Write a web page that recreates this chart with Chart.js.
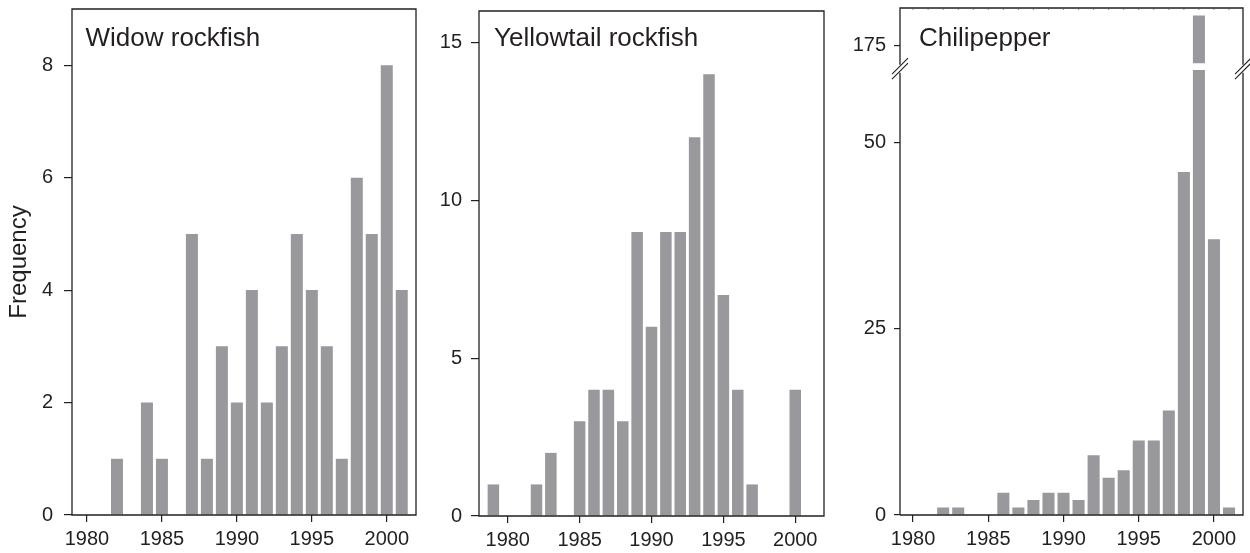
<!DOCTYPE html>
<html>
<head>
<meta charset="utf-8">
<script src="https://cdn.jsdelivr.net/npm/chart.js@4.4.1/dist/chart.umd.min.js"></script>
<style>
  html, body { margin: 0; padding: 0; background: #fff; }
  body { width: 1250px; height: 553px; position: relative; overflow: hidden; }
  canvas { position: absolute; top: 0; }
</style>
</head>
<body>
<canvas id="widow" width="425" height="553" style="left:0"></canvas>
<canvas id="yellowtail" width="410" height="553" style="left:425px"></canvas>
<canvas id="chili" width="415" height="553" style="left:835px"></canvas>
<script>
// Frequency by year, three species
const yearTicks = [1980, 1985, 1990, 1995, 2000];

const widowYears = [1980, 1981, 1982, 1983, 1984, 1985, 1986, 1987, 1988, 1989, 1990,
                    1991, 1992, 1993, 1994, 1995, 1996, 1997, 1998, 1999, 2000, 2001];
const widowCounts = [0, 0, 1, 0, 2, 1, 0, 5, 1, 3, 2, 4, 2, 3, 5, 4, 3, 1, 6, 5, 8, 4];
const widowYTicks = [0, 2, 4, 6, 8];

const yellowYears = [1979, 1980, 1981, 1982, 1983, 1984, 1985, 1986, 1987, 1988, 1989, 1990,
                     1991, 1992, 1993, 1994, 1995, 1996, 1997, 1998, 1999, 2000, 2001];
const yellowCounts = [1, 0, 0, 1, 2, 0, 3, 4, 4, 3, 9, 6, 9, 9, 12, 14, 7, 4, 1, 0, 0, 4, 0];
const yellowYTicks = [0, 5, 10, 15];

const chiliYears = [1980, 1981, 1982, 1983, 1984, 1985, 1986, 1987, 1988, 1989, 1990,
                    1991, 1992, 1993, 1994, 1995, 1996, 1997, 1998, 1999, 2000, 2001];
const chiliCounts = [0, 0, 1, 1, 0, 0, 3, 1, 2, 3, 3, 2, 8, 5, 6, 10, 10, 14, 46, 179, 37, 1];
const chiliLowTicks = [0, 25, 50];
const chiliHighTicks = [175];

// broken axis for chilipepper
const LOW_MAX = 60;
const HIGH_MIN = 172;
const HIGH_MAX = 180;

const FONT = "'Liberation Sans', Arial, Helvetica, sans-serif";
const INK = '#231f20';
const BAR = '#98989d';

const framePlugin = {
    id: 'frame',
    afterDraw(chart, args, opts) {
        const { ctx, chartArea: a } = chart;
        ctx.save();
        ctx.strokeStyle = INK;
        ctx.lineWidth = 1.3;
        ctx.beginPath();
        if (opts.broken) {
            const by = chart.scales.yLow.top + 1;
            const gap = 4;
            ctx.moveTo(a.left, a.bottom); ctx.lineTo(a.left, by + gap);
            ctx.moveTo(a.left, by - gap); ctx.lineTo(a.left, a.top);
            ctx.lineTo(a.right, a.top); ctx.lineTo(a.right, by - gap);
            ctx.moveTo(a.right, by + gap); ctx.lineTo(a.right, a.bottom);
            ctx.lineTo(a.left, a.bottom);
            ctx.stroke();
            // the // marks
            ctx.lineWidth = 1.1;
            ctx.beginPath();
            [a.left, a.right].forEach(x => {
                [-2.5, 2.5].forEach(off => {
                    ctx.moveTo(x - 8, by + 8 + off);
                    ctx.lineTo(x + 8, by - 8 + off);
                });
            });
            ctx.stroke();
            // faint year ticks along the top edge
            const xs = chart.scales.x;
            ctx.lineWidth = 0.7;
            ctx.strokeStyle = '#555';
            ctx.beginPath();
            chiliYears.forEach(y => {
                const px = xs.getPixelForValue(y);
                ctx.moveTo(px, a.top);
                ctx.lineTo(px, a.top + 2);
            });
            ctx.stroke();
        } else {
            ctx.rect(a.left, a.top, a.right - a.left, a.bottom - a.top);
            ctx.stroke();
        }
        ctx.fillStyle = INK;
        ctx.font = `26px ${FONT}`;
        ctx.textBaseline = 'alphabetic';
        ctx.textAlign = 'left';
        ctx.fillText(opts.title, a.left + opts.dx, a.top + opts.dy);
        ctx.restore();
    }
};

function xAxis(min, max, height) {
    return {
        type: 'linear',
        position: 'bottom',
        min: min,
        max: max,
        offset: false,
        afterBuildTicks: s => { s.ticks = yearTicks.map(v => ({ value: v })); },
        afterFit: s => {
            s.height = height;
            s.paddingLeft = 0;
            s.paddingRight = 0;
        },
        grid: { offset: false, drawOnChartArea: false, drawTicks: true, tickLength: 7, color: INK, lineWidth: 1.2 },
        border: { display: false },
        ticks: {
            color: INK,
            font: { family: FONT, size: 20 },
            padding: 5,
            maxRotation: 0,
            autoSkip: false,
            callback: v => String(v)
        }
    };
}

function yAxis(min, max, ticks, width, tickLen, pad, extra) {
    return Object.assign({
        type: 'linear',
        position: 'left',
        min: min,
        max: max,
        afterBuildTicks: s => { s.ticks = ticks.map(v => ({ value: v })); },
        afterFit: s => {
            s.width = width;
            s.paddingTop = 0;
            s.paddingBottom = 0;
        },
        grid: { drawOnChartArea: false, drawTicks: true, tickLength: tickLen, color: INK, lineWidth: 1.2 },
        border: { display: false },
        ticks: {
            color: INK,
            font: { family: FONT, size: 20 },
            padding: pad,
            autoSkip: false,
            callback: v => String(v)
        }
    }, extra || {});
}

function barSet(years, values, yAxisID) {
    return {
        data: years.map((y, i) => ({ x: y, y: values[i] })).filter(p => p.y !== null),
        backgroundColor: BAR,
        borderWidth: 0,
        barPercentage: 0.8,
        categoryPercentage: 1,
        grouped: false,
        yAxisID: yAxisID
    };
}

function baseOptions(padding, scales, frame) {
    return {
        responsive: false,
        animation: false,
        layout: { padding: padding },
        plugins: {
            legend: { display: false },
            tooltip: { enabled: false },
            frame: frame
        },
        scales: scales
    };
}

// Widow rockfish
new Chart(document.getElementById('widow'), {
    type: 'bar',
    data: { datasets: [barSet(widowYears, widowCounts, 'y')] },
    options: baseOptions(
        { left: 0, right: 9, top: 9, bottom: 0 },
        {
            x: xAxis(1979, 2001.95, 38),
            y: yAxis(0, 9, widowYTicks, 72, 8, 11, {
                title: {
                    display: true,
                    text: 'Frequency',
                    color: INK,
                    font: { family: FONT, size: 24 },
                    padding: { top: 5, bottom: 0 }
                }
            })
        },
        { title: 'Widow rockfish', dx: 13.5, dy: 36.5 }
    ),
    plugins: [framePlugin]
});

// Yellowtail rockfish
new Chart(document.getElementById('yellowtail'), {
    type: 'bar',
    data: { datasets: [barSet(yellowYears, yellowCounts, 'y')] },
    options: baseOptions(
        { left: 0, right: 11, top: 11, bottom: 0 },
        {
            x: xAxis(1978, 2002, 37),
            y: yAxis(0, 16, yellowYTicks, 54, 8, 9)
        },
        { title: 'Yellowtail rockfish', dx: 15, dy: 35 }
    ),
    plugins: [framePlugin]
});

// Chilipepper, with a broken y axis
const chiliLow = chiliCounts.map(v => Math.min(v, LOW_MAX - 0.3));
const chiliHigh = chiliCounts.map(v => (v > LOW_MAX ? [HIGH_MIN + 0.6, v] : null));

new Chart(document.getElementById('chili'), {
    type: 'bar',
    data: {
        datasets: [
            barSet(chiliYears, chiliLow, 'yLow'),
            barSet(chiliYears, chiliHigh, 'yHigh')
        ]
    },
    options: baseOptions(
        { left: 0, right: 7, top: 8, bottom: 0 },
        {
            x: xAxis(1979.13, 2001.93, 38),
            yLow: yAxis(0, LOW_MAX, chiliLowTicks, 65, 6, 8, { stack: 'chili', stackWeight: LOW_MAX }),
            yHigh: yAxis(HIGH_MIN, HIGH_MAX, chiliHighTicks, 65, 6, 8, { stack: 'chili', stackWeight: HIGH_MAX - HIGH_MIN })
        },
        { title: 'Chilipepper', dx: 19, dy: 38, broken: true }
    ),
    plugins: [framePlugin]
});
</script>
</body>
</html>
